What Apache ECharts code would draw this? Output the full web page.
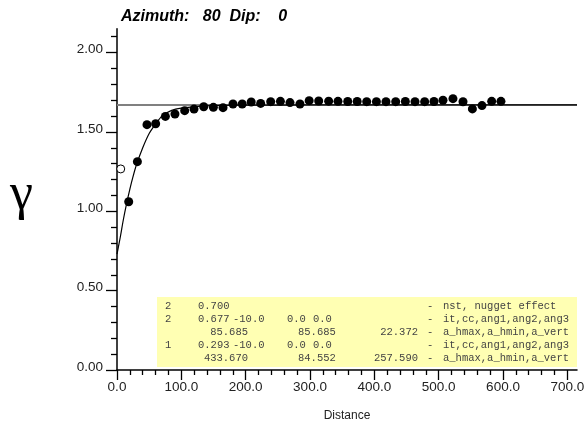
<!DOCTYPE html>
<html>
<head>
<meta charset="utf-8">
<script src="https://cdn.jsdelivr.net/npm/echarts@6/dist/echarts.min.js"></script>
<style>
  html, body { margin: 0; padding: 0; background: #fff; }
  #chart { width: 584px; height: 430px; }
</style>
</head>
<body>
<div id="chart"></div>
<script>
// experimental variogram points (lag distance, gamma)
const lagDist = [18.2, 31.7, 46.6, 60.1, 75.2, 90.1, 105.2, 119.7, 134.8, 149.8,
  164.8, 180.3, 194.6, 208.6, 223.3, 238.9, 254.0, 268.9, 284.4, 298.7,
  313.5, 329.0, 343.5, 358.6, 373.3, 388.1, 403.2, 418.1, 433.2, 448.2,
  463.2, 478.2, 492.7, 506.7, 522.2, 537.8, 552.4, 567.3, 582.4, 596.8];
const gammaVal = [1.06, 1.313, 1.546, 1.552, 1.598, 1.613, 1.634, 1.644, 1.659, 1.655,
  1.653, 1.676, 1.676, 1.689, 1.680, 1.691, 1.693, 1.685, 1.676, 1.697,
  1.695, 1.694, 1.693, 1.692, 1.692, 1.691, 1.691, 1.691, 1.691, 1.692,
  1.691, 1.691, 1.692, 1.700, 1.710, 1.690, 1.645, 1.666, 1.693, 1.693];
// first lag drawn as an open circle
const openDist = [5.8];
const openGamma = [1.267];

// fitted model curve
const modelDist = [0, 5, 10, 15, 20, 25, 30, 40, 50, 60, 70, 85, 100, 130, 160, 200, 300, 715];
const modelGamma = [0.73, 0.835, 0.95, 1.05, 1.14, 1.22, 1.29, 1.40, 1.49, 1.55, 1.60, 1.636, 1.65, 1.663, 1.668, 1.669, 1.67, 1.67];

// sill
const sillDist = [0, 715];
const sillGamma = [1.67, 1.67];

// ticks
const xMajor = [0, 100, 200, 300, 400, 500, 600, 700];
const yMajor = [0, 0.5, 1.0, 1.5, 2.0];
const xMax = 715;
const yMax = 2.15;

// parameter table
const colIt = ['2', '2', '', '1', ''];
const colCc = ['0.700', '0.677', '', '0.293', ''];
const colAng1 = ['', '-10.0', '', '-10.0', ''];
const colAng2 = ['', '0.0', '', '0.0', ''];
const colAng3 = ['', '0.0', '', '0.0', ''];
const colHmax = ['', '', '85.685', '', '433.670'];
const colHmin = ['', '', '85.685', '', '84.552'];
const colVert = ['', '', '22.372', '', '257.590'];
const colDesc = ['nst, nugget effect', 'it,cc,ang1,ang2,ang3', 'a_hmax,a_hmin,a_vert',
  'it,cc,ang1,ang2,ang3', 'a_hmax,a_hmin,a_vert'];

const xMinor = [];
for (let v = 0; v <= 700; v += 20) if (v % 100 !== 0) xMinor.push(v);
const yMinor = [];
for (let i = 0; i <= 21; i++) if (i % 5 !== 0) yMinor.push(i / 10);

const pts = lagDist.map((d, i) => [d, gammaVal[i]]);
const openPts = openDist.map((d, i) => [d, openGamma[i]]);
const model = modelDist.map((d, i) => [d, modelGamma[i]]);
const sillLine = sillDist.map((d, i) => [d, sillGamma[i]]);

// table text elements
const tableFont = '10.5px "Liberation Mono", "DejaVu Sans Mono", monospace';
const tableCols = [
  { vals: colIt, x: 165, align: 'left' },
  { vals: colCc, x: 198, align: 'left' },
  { vals: colAng1, x: 233, align: 'left' },
  { vals: colAng2, x: 287, align: 'left' },
  { vals: colAng3, x: 313, align: 'left' },
  { vals: colHmax, x: 248, align: 'right' },
  { vals: colHmin, x: 298, align: 'left' },
  { vals: colVert, x: 418, align: 'right' },
  { vals: ['-', '-', '-', '-', '-'], x: 427, align: 'left' },
  { vals: colDesc, x: 443, align: 'left' }
];
const tableEls = [{
  type: 'rect',
  shape: { x: 157, y: 297, width: 420, height: 70 },
  style: { fill: '#ffffb3' },
  z: 0
}];
tableCols.forEach(function (col) {
  col.vals.forEach(function (t, r) {
    if (!t) return;
    tableEls.push({
      type: 'text',
      x: col.x,
      y: 306.5 + r * 13,
      style: { text: t, font: tableFont, fill: '#444', align: col.align, verticalAlign: 'middle' },
      z: 1
    });
  });
});

const myChart = echarts.init(document.getElementById('chart'));
const axisColor = '#000';
const labelStyle = { color: '#222', fontSize: 13.5, fontFamily: 'Liberation Sans, Arial, sans-serif' };

const option = {
  animation: false,
  backgroundColor: '#fff',
  title: {
    text: 'Azimuth:   80  Dip:    0',
    left: 116,
    top: 4,
    textStyle: { fontSize: 16, fontWeight: 'bold', fontStyle: 'italic', color: '#000', fontFamily: 'Liberation Sans, Arial, sans-serif' }
  },
  graphic: tableEls,
  grid: { left: 117, right: 7, top: 28.8, bottom: 60, containLabel: false, outerBoundsMode: 'none' },
  xAxis: [
    {
      type: 'value', min: 0, max: xMax,
      position: 'bottom',
      name: 'Distance', nameLocation: 'middle', nameGap: 40,
      nameTextStyle: { fontSize: 12, color: '#222', fontFamily: 'Liberation Sans, Arial, sans-serif' },
      axisLine: { onZero: false, lineStyle: { color: axisColor, width: 1.5 } },
      axisTick: { customValues: xMajor, length: 10, lineStyle: { color: axisColor, width: 1.3 } },
      axisLabel: Object.assign({ customValues: xMajor, margin: 10, formatter: v => v.toFixed(1) }, labelStyle),
      splitLine: { show: false }
    },
    {
      type: 'value', min: 0, max: xMax,
      position: 'bottom',
      axisLine: { show: false, onZero: false },
      axisTick: { customValues: xMinor, length: 5, lineStyle: { color: axisColor, width: 1.3 } },
      axisLabel: { show: false },
      splitLine: { show: false }
    }
  ],
  yAxis: [
    {
      type: 'value', min: 0, max: yMax,
      position: 'left',
      name: 'γ', nameLocation: 'middle', nameGap: 84, nameRotate: 0,
      nameTextStyle: { fontSize: 52, color: '#000', fontFamily: 'Liberation Serif, DejaVu Serif, serif', verticalAlign: 'bottom', lineHeight: 9 },
      axisLine: { onZero: false, lineStyle: { color: axisColor, width: 1.5 } },
      axisTick: { customValues: yMajor, length: 11, lineStyle: { color: axisColor, width: 1.3 } },
      axisLabel: Object.assign({ customValues: yMajor, margin: 14, formatter: v => v.toFixed(2), verticalAlign: 'bottom', lineHeight: 6 }, labelStyle),
      splitLine: { show: false }
    },
    {
      type: 'value', min: 0, max: yMax,
      position: 'left',
      axisLine: { show: false, onZero: false },
      axisTick: { customValues: yMinor, length: 6, lineStyle: { color: axisColor, width: 1.3 } },
      axisLabel: { show: false },
      splitLine: { show: false }
    }
  ],
  series: [
    {
      type: 'line', data: sillLine, symbol: 'none',
      lineStyle: { color: '#808080', width: 2 }, z: 2
    },
    {
      type: 'line', data: model, symbol: 'none', smooth: 0.3,
      lineStyle: { color: '#000', width: 1.2 }, z: 3
    },
    {
      type: 'scatter', data: pts, symbol: 'circle', symbolSize: 9,
      itemStyle: { color: '#000', opacity: 1 }, z: 4
    },
    {
      type: 'scatter', data: openPts, symbol: 'circle', symbolSize: 8,
      itemStyle: { color: '#fff', borderColor: '#000', borderWidth: 1, opacity: 1 }, z: 4
    }
  ]
};
myChart.setOption(option);
</script>
</body>
</html>
